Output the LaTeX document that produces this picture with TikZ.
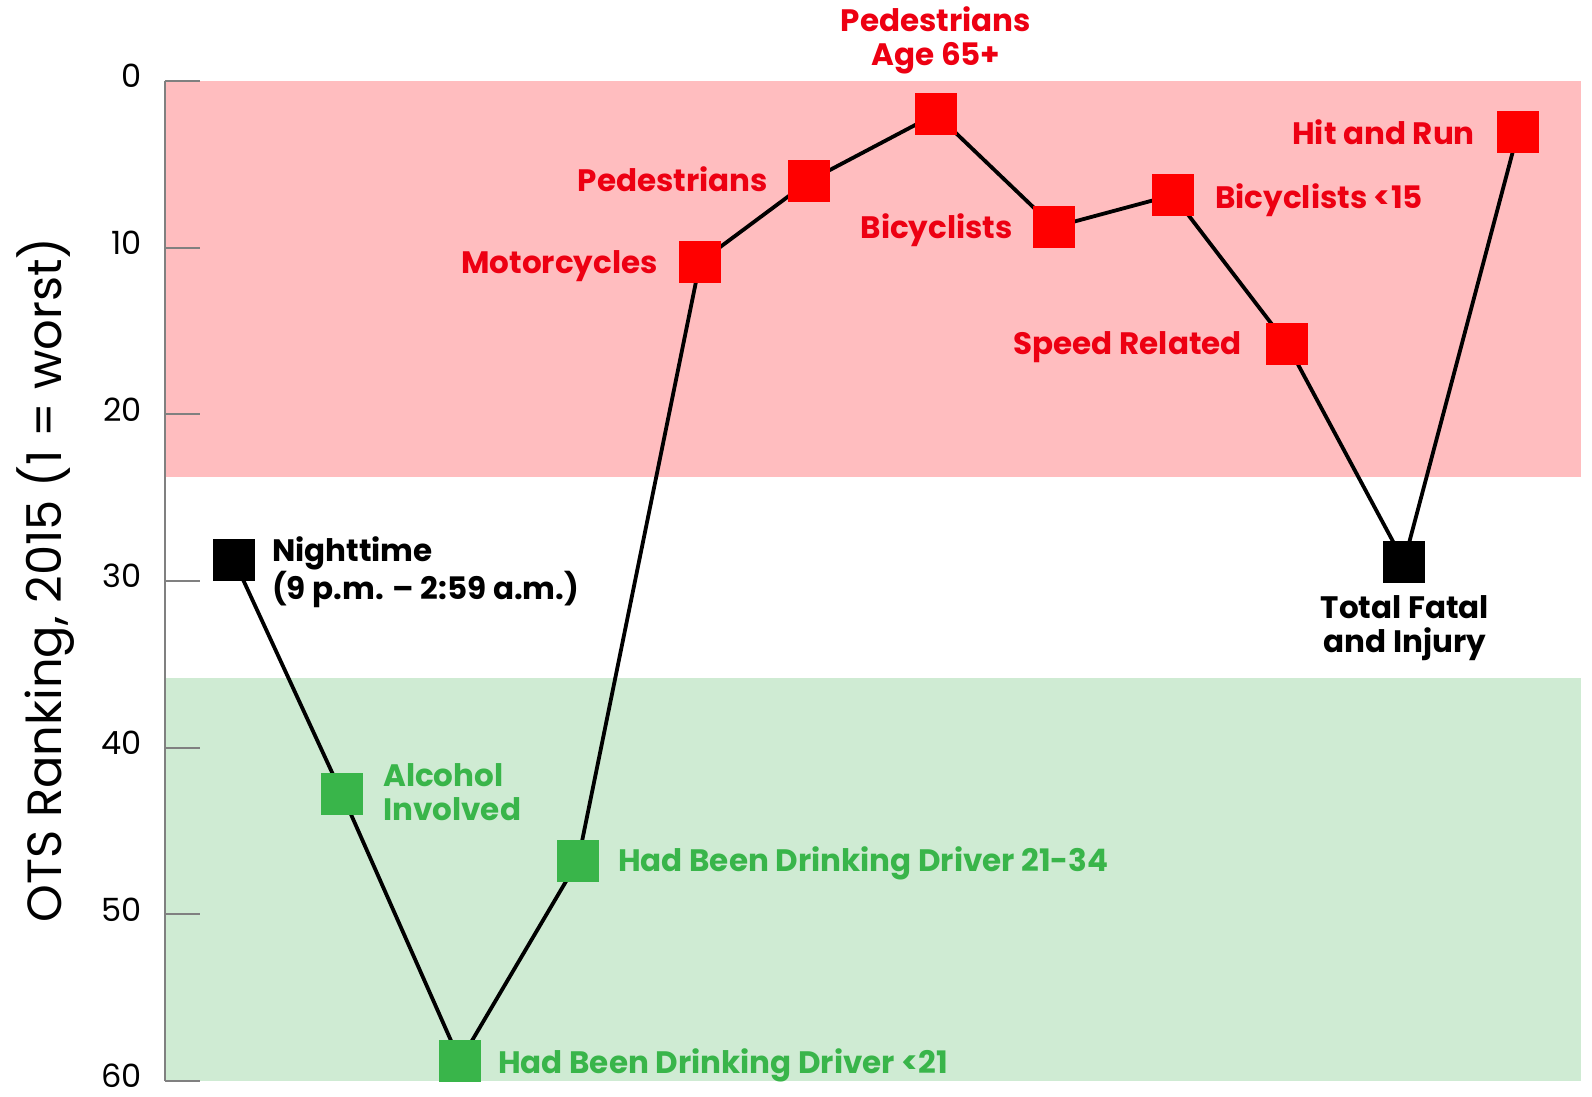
\documentclass[tikz,border=0pt]{standalone}
\usepackage{fontspec}
\setmainfont{Poppins}
\pgfdeclarelayer{bg}
\pgfsetlayers{bg,main}
\definecolor{pinkband}{RGB}{255,189,191}
\definecolor{greenband}{RGB}{207,235,211}
\definecolor{mred}{RGB}{255,0,0}
\definecolor{tred}{RGB}{237,0,18}
\definecolor{mgreen}{RGB}{57,181,74}
\definecolor{axisgray}{RGB}{128,128,128}
\begin{document}
\begin{tikzpicture}[x=1pt,y=-1pt,
  mk/.style={rectangle, minimum size=42pt, inner sep=0pt, fill=#1},
  lab/.style={font=\fontsize{31}{34}\selectfont\bfseries, inner sep=0pt, text=#1},
  ticklab/.style={font=\fontsize{32}{35}\selectfont, inner sep=0pt, anchor=east},
  conn/.style={line width=3.8pt, black}]
\useasboundingbox (0,0) rectangle (1592,1096);
% markers
\node[mk=black]  (night) at (234,560) {};
\node[mk=mgreen] (alc)   at (342,794) {};
\node[mk=mgreen] (d21)   at (460,1061) {};
\node[mk=mgreen] (d2134) at (578,861) {};
\node[mk=mred]   (moto)  at (700,262) {};
\node[mk=mred]   (ped)   at (809,181) {};
\node[mk=mred]   (ped65) at (936,114) {};
\node[mk=mred]   (bic)   at (1054,227) {};
\node[mk=mred]   (bic15) at (1173,195) {};
\node[mk=mred]   (speed) at (1287,344) {};
\node[mk=black]  (total) at (1404,562) {};
\node[mk=mred]   (hit)   at (1518,132) {};
\begin{pgfonlayer}{bg}
  \fill[white] (0,0) rectangle (1592,1096);
  \fill[pinkband] (166,81) rectangle (1581,477);
  \fill[greenband] (166,678) rectangle (1581,1081);
  \draw[axisgray, line width=2pt] (165,81) -- (165,1081);
  \foreach \v in {0,10,...,60}{
    \draw[axisgray, line width=2pt] (165,{81+16.667*\v}) -- (200,{81+16.667*\v});
  }
  \draw[conn] (night.center) -- (alc.center) -- (d21.center) -- (d2134.center)
    -- (moto.center) -- (ped.center) -- (ped65.center) -- (bic.center)
    -- (bic15.center) -- (speed.center) -- (total.center) -- (hit.center);
\end{pgfonlayer}
% tick labels
\foreach \v in {0,10,...,60}{
  \node[ticklab] (t\v) at (142,{76+16.667*\v}) {\v};
}
% axis title
\node[font=\fontsize{48}{52}\selectfont, rotate=90, inner sep=0pt] (ytitle) at (46,580) {OTS Ranking, 2015 (1 = worst)};
% labels
\node[lab=tred, anchor=base east] (lmoto) at (658,273) {Motorcycles};
\node[lab=tred, anchor=base east] (lped) at (768,191) {Pedestrians};
\node[lab=tred, align=center] (lped65) at (936,40) {Pedestrians\\Age 65+};
\node[lab=tred, anchor=base east] (lbic) at (1013,238) {Bicyclists};
\node[lab=tred, anchor=base west] (lbic15) at (1215,208) {Bicyclists <15};
\node[lab=tred, anchor=base east] (lspeed) at (1242,354) {Speed Related};
\node[lab=tred, anchor=base east] (lhit) at (1475,144) {Hit and Run};
\node[lab=black, align=center] (ltotal) at (1405,628) {Total Fatal\\and Injury};
\node[lab=black, align=left, anchor=west] (lnight) at (272,572) {Nighttime\\(9 p.m. – 2:59 a.m.)};
\node[lab=mgreen, align=left, anchor=west] (lalc) at (383,792) {Alcohol\\Involved};
\node[lab=mgreen, anchor=base west] (ld2134) at (618,871) {Had Been Drinking Driver 21-34};
\node[lab=mgreen, anchor=base west] (ld21) at (498,1073) {Had Been Drinking Driver <21};
\end{tikzpicture}
\end{document}
